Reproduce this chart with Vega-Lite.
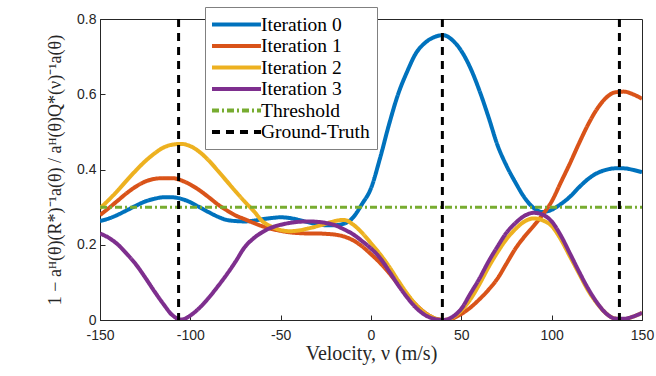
{
  "$schema": "https://vega.github.io/schema/vega-lite/v6.json",
  "width": 542,
  "height": 301,
  "autosize": {"type": "none"},
  "padding": {"left": 100, "top": 19, "right": 14, "bottom": 56},
  "background": "white",
  "config": {
    "font": "Liberation Serif",
    "view": {"stroke": "#262626", "strokeWidth": 1},
    "axis": {
      "grid": false,
      "domainColor": "#262626",
      "tickColor": "#262626",
      "tickSize": -5,
      "labelFlush": false,
      "labelFont": "Liberation Sans",
      "labelFontSize": 14,
      "labelColor": "#262626",
      "titleFont": "Liberation Serif",
      "titleFontSize": 20,
      "titleFontWeight": "normal",
      "titleColor": "#262626"
    }
  },
  "datasets": {
    "curves": [
      {"s":"Iteration 0","v":-150,"y":0.263},{"s":"Iteration 0","v":-145,"y":0.270},{"s":"Iteration 0","v":-140,"y":0.280},{"s":"Iteration 0","v":-135,"y":0.292},{"s":"Iteration 0","v":-130,"y":0.304},{"s":"Iteration 0","v":-125,"y":0.315},{"s":"Iteration 0","v":-120,"y":0.322},{"s":"Iteration 0","v":-115,"y":0.326},{"s":"Iteration 0","v":-110,"y":0.326},{"s":"Iteration 0","v":-105,"y":0.322},{"s":"Iteration 0","v":-100,"y":0.313},{"s":"Iteration 0","v":-95,"y":0.300},{"s":"Iteration 0","v":-90,"y":0.287},{"s":"Iteration 0","v":-85,"y":0.275},{"s":"Iteration 0","v":-80,"y":0.266},{"s":"Iteration 0","v":-75,"y":0.263},{"s":"Iteration 0","v":-70,"y":0.262},{"s":"Iteration 0","v":-65,"y":0.264},{"s":"Iteration 0","v":-60,"y":0.268},{"s":"Iteration 0","v":-55,"y":0.271},{"s":"Iteration 0","v":-50,"y":0.273},{"s":"Iteration 0","v":-45,"y":0.271},{"s":"Iteration 0","v":-40,"y":0.266},{"s":"Iteration 0","v":-35,"y":0.260},{"s":"Iteration 0","v":-30,"y":0.255},{"s":"Iteration 0","v":-25,"y":0.252},{"s":"Iteration 0","v":-20,"y":0.252},{"s":"Iteration 0","v":-15,"y":0.256},{"s":"Iteration 0","v":-10,"y":0.272},{"s":"Iteration 0","v":-5,"y":0.308},{"s":"Iteration 0","v":0,"y":0.350},{"s":"Iteration 0","v":5,"y":0.430},{"s":"Iteration 0","v":10,"y":0.520},{"s":"Iteration 0","v":15,"y":0.600},{"s":"Iteration 0","v":20,"y":0.660},{"s":"Iteration 0","v":25,"y":0.710},{"s":"Iteration 0","v":30,"y":0.737},{"s":"Iteration 0","v":35,"y":0.752},{"s":"Iteration 0","v":40,"y":0.757},{"s":"Iteration 0","v":45,"y":0.744},{"s":"Iteration 0","v":50,"y":0.715},{"s":"Iteration 0","v":55,"y":0.670},{"s":"Iteration 0","v":60,"y":0.610},{"s":"Iteration 0","v":65,"y":0.540},{"s":"Iteration 0","v":70,"y":0.465},{"s":"Iteration 0","v":75,"y":0.410},{"s":"Iteration 0","v":80,"y":0.365},{"s":"Iteration 0","v":85,"y":0.325},{"s":"Iteration 0","v":90,"y":0.298},{"s":"Iteration 0","v":95,"y":0.287},{"s":"Iteration 0","v":100,"y":0.293},{"s":"Iteration 0","v":105,"y":0.308},{"s":"Iteration 0","v":110,"y":0.327},{"s":"Iteration 0","v":115,"y":0.352},{"s":"Iteration 0","v":120,"y":0.374},{"s":"Iteration 0","v":125,"y":0.390},{"s":"Iteration 0","v":130,"y":0.399},{"s":"Iteration 0","v":135,"y":0.403},{"s":"Iteration 0","v":140,"y":0.403},{"s":"Iteration 0","v":145,"y":0.399},{"s":"Iteration 0","v":150,"y":0.393},

      {"s":"Iteration 1","v":-150,"y":0.279},{"s":"Iteration 1","v":-145,"y":0.298},{"s":"Iteration 1","v":-140,"y":0.318},{"s":"Iteration 1","v":-135,"y":0.338},{"s":"Iteration 1","v":-130,"y":0.355},{"s":"Iteration 1","v":-125,"y":0.368},{"s":"Iteration 1","v":-120,"y":0.375},{"s":"Iteration 1","v":-115,"y":0.377},{"s":"Iteration 1","v":-110,"y":0.377},{"s":"Iteration 1","v":-105,"y":0.371},{"s":"Iteration 1","v":-100,"y":0.360},{"s":"Iteration 1","v":-95,"y":0.345},{"s":"Iteration 1","v":-90,"y":0.327},{"s":"Iteration 1","v":-85,"y":0.308},{"s":"Iteration 1","v":-80,"y":0.292},{"s":"Iteration 1","v":-75,"y":0.278},{"s":"Iteration 1","v":-70,"y":0.268},{"s":"Iteration 1","v":-65,"y":0.258},{"s":"Iteration 1","v":-60,"y":0.249},{"s":"Iteration 1","v":-55,"y":0.242},{"s":"Iteration 1","v":-50,"y":0.237},{"s":"Iteration 1","v":-45,"y":0.233},{"s":"Iteration 1","v":-40,"y":0.231},{"s":"Iteration 1","v":-35,"y":0.230},{"s":"Iteration 1","v":-30,"y":0.230},{"s":"Iteration 1","v":-25,"y":0.229},{"s":"Iteration 1","v":-20,"y":0.227},{"s":"Iteration 1","v":-15,"y":0.222},{"s":"Iteration 1","v":-10,"y":0.212},{"s":"Iteration 1","v":-5,"y":0.196},{"s":"Iteration 1","v":0,"y":0.175},{"s":"Iteration 1","v":5,"y":0.152},{"s":"Iteration 1","v":10,"y":0.125},{"s":"Iteration 1","v":15,"y":0.095},{"s":"Iteration 1","v":20,"y":0.066},{"s":"Iteration 1","v":25,"y":0.040},{"s":"Iteration 1","v":30,"y":0.019},{"s":"Iteration 1","v":35,"y":0.005},{"s":"Iteration 1","v":40,"y":0.000},{"s":"Iteration 1","v":45,"y":0.004},{"s":"Iteration 1","v":50,"y":0.016},{"s":"Iteration 1","v":55,"y":0.033},{"s":"Iteration 1","v":60,"y":0.055},{"s":"Iteration 1","v":65,"y":0.080},{"s":"Iteration 1","v":70,"y":0.110},{"s":"Iteration 1","v":75,"y":0.150},{"s":"Iteration 1","v":80,"y":0.190},{"s":"Iteration 1","v":85,"y":0.222},{"s":"Iteration 1","v":90,"y":0.250},{"s":"Iteration 1","v":95,"y":0.280},{"s":"Iteration 1","v":100,"y":0.315},{"s":"Iteration 1","v":105,"y":0.365},{"s":"Iteration 1","v":110,"y":0.415},{"s":"Iteration 1","v":115,"y":0.468},{"s":"Iteration 1","v":120,"y":0.518},{"s":"Iteration 1","v":125,"y":0.560},{"s":"Iteration 1","v":130,"y":0.590},{"s":"Iteration 1","v":135,"y":0.605},{"s":"Iteration 1","v":140,"y":0.607},{"s":"Iteration 1","v":145,"y":0.600},{"s":"Iteration 1","v":150,"y":0.588},

      {"s":"Iteration 2","v":-150,"y":0.297},{"s":"Iteration 2","v":-145,"y":0.320},{"s":"Iteration 2","v":-140,"y":0.345},{"s":"Iteration 2","v":-135,"y":0.372},{"s":"Iteration 2","v":-130,"y":0.398},{"s":"Iteration 2","v":-125,"y":0.422},{"s":"Iteration 2","v":-120,"y":0.442},{"s":"Iteration 2","v":-115,"y":0.458},{"s":"Iteration 2","v":-110,"y":0.466},{"s":"Iteration 2","v":-105,"y":0.468},{"s":"Iteration 2","v":-100,"y":0.462},{"s":"Iteration 2","v":-95,"y":0.447},{"s":"Iteration 2","v":-90,"y":0.425},{"s":"Iteration 2","v":-85,"y":0.398},{"s":"Iteration 2","v":-80,"y":0.370},{"s":"Iteration 2","v":-75,"y":0.342},{"s":"Iteration 2","v":-70,"y":0.315},{"s":"Iteration 2","v":-65,"y":0.290},{"s":"Iteration 2","v":-60,"y":0.262},{"s":"Iteration 2","v":-55,"y":0.248},{"s":"Iteration 2","v":-50,"y":0.239},{"s":"Iteration 2","v":-45,"y":0.236},{"s":"Iteration 2","v":-40,"y":0.238},{"s":"Iteration 2","v":-35,"y":0.243},{"s":"Iteration 2","v":-30,"y":0.249},{"s":"Iteration 2","v":-25,"y":0.256},{"s":"Iteration 2","v":-20,"y":0.263},{"s":"Iteration 2","v":-15,"y":0.266},{"s":"Iteration 2","v":-10,"y":0.254},{"s":"Iteration 2","v":-5,"y":0.232},{"s":"Iteration 2","v":0,"y":0.204},{"s":"Iteration 2","v":5,"y":0.175},{"s":"Iteration 2","v":10,"y":0.142},{"s":"Iteration 2","v":15,"y":0.105},{"s":"Iteration 2","v":20,"y":0.070},{"s":"Iteration 2","v":25,"y":0.040},{"s":"Iteration 2","v":30,"y":0.018},{"s":"Iteration 2","v":35,"y":0.005},{"s":"Iteration 2","v":40,"y":0.000},{"s":"Iteration 2","v":45,"y":0.006},{"s":"Iteration 2","v":50,"y":0.025},{"s":"Iteration 2","v":55,"y":0.055},{"s":"Iteration 2","v":60,"y":0.095},{"s":"Iteration 2","v":65,"y":0.140},{"s":"Iteration 2","v":70,"y":0.180},{"s":"Iteration 2","v":75,"y":0.215},{"s":"Iteration 2","v":80,"y":0.242},{"s":"Iteration 2","v":85,"y":0.262},{"s":"Iteration 2","v":90,"y":0.270},{"s":"Iteration 2","v":95,"y":0.265},{"s":"Iteration 2","v":100,"y":0.250},{"s":"Iteration 2","v":105,"y":0.215},{"s":"Iteration 2","v":110,"y":0.170},{"s":"Iteration 2","v":115,"y":0.125},{"s":"Iteration 2","v":120,"y":0.080},{"s":"Iteration 2","v":125,"y":0.045},{"s":"Iteration 2","v":130,"y":0.018},{"s":"Iteration 2","v":135,"y":0.004},{"s":"Iteration 2","v":140,"y":0.002},{"s":"Iteration 2","v":145,"y":0.009},{"s":"Iteration 2","v":150,"y":0.019},

      {"s":"Iteration 3","v":-150,"y":0.230},{"s":"Iteration 3","v":-145,"y":0.218},{"s":"Iteration 3","v":-140,"y":0.200},{"s":"Iteration 3","v":-135,"y":0.175},{"s":"Iteration 3","v":-130,"y":0.147},{"s":"Iteration 3","v":-125,"y":0.113},{"s":"Iteration 3","v":-120,"y":0.077},{"s":"Iteration 3","v":-115,"y":0.043},{"s":"Iteration 3","v":-110,"y":0.013},{"s":"Iteration 3","v":-105,"y":0.001},{"s":"Iteration 3","v":-100,"y":0.012},{"s":"Iteration 3","v":-95,"y":0.032},{"s":"Iteration 3","v":-90,"y":0.058},{"s":"Iteration 3","v":-85,"y":0.088},{"s":"Iteration 3","v":-80,"y":0.120},{"s":"Iteration 3","v":-75,"y":0.155},{"s":"Iteration 3","v":-70,"y":0.193},{"s":"Iteration 3","v":-65,"y":0.217},{"s":"Iteration 3","v":-60,"y":0.234},{"s":"Iteration 3","v":-55,"y":0.246},{"s":"Iteration 3","v":-50,"y":0.253},{"s":"Iteration 3","v":-45,"y":0.258},{"s":"Iteration 3","v":-40,"y":0.261},{"s":"Iteration 3","v":-35,"y":0.262},{"s":"Iteration 3","v":-30,"y":0.261},{"s":"Iteration 3","v":-25,"y":0.258},{"s":"Iteration 3","v":-20,"y":0.252},{"s":"Iteration 3","v":-15,"y":0.241},{"s":"Iteration 3","v":-10,"y":0.228},{"s":"Iteration 3","v":-5,"y":0.210},{"s":"Iteration 3","v":0,"y":0.190},{"s":"Iteration 3","v":5,"y":0.165},{"s":"Iteration 3","v":10,"y":0.130},{"s":"Iteration 3","v":15,"y":0.093},{"s":"Iteration 3","v":20,"y":0.060},{"s":"Iteration 3","v":25,"y":0.032},{"s":"Iteration 3","v":30,"y":0.013},{"s":"Iteration 3","v":35,"y":0.003},{"s":"Iteration 3","v":40,"y":0.000},{"s":"Iteration 3","v":45,"y":0.008},{"s":"Iteration 3","v":50,"y":0.030},{"s":"Iteration 3","v":55,"y":0.070},{"s":"Iteration 3","v":60,"y":0.110},{"s":"Iteration 3","v":65,"y":0.155},{"s":"Iteration 3","v":70,"y":0.195},{"s":"Iteration 3","v":75,"y":0.232},{"s":"Iteration 3","v":80,"y":0.258},{"s":"Iteration 3","v":85,"y":0.277},{"s":"Iteration 3","v":90,"y":0.285},{"s":"Iteration 3","v":95,"y":0.280},{"s":"Iteration 3","v":100,"y":0.262},{"s":"Iteration 3","v":105,"y":0.225},{"s":"Iteration 3","v":110,"y":0.178},{"s":"Iteration 3","v":115,"y":0.130},{"s":"Iteration 3","v":120,"y":0.085},{"s":"Iteration 3","v":125,"y":0.047},{"s":"Iteration 3","v":130,"y":0.018},{"s":"Iteration 3","v":135,"y":0.004},{"s":"Iteration 3","v":140,"y":0.003},{"s":"Iteration 3","v":145,"y":0.009},{"s":"Iteration 3","v":150,"y":0.019}
    ],
    "threshold": [
      {"s":"Threshold","v":-150,"y":0.3},{"s":"Threshold","v":150,"y":0.3}
    ],
    "truth": [
      {"s":"Ground-Truth","v":-106.5},{"s":"Ground-Truth","v":39.5},{"s":"Ground-Truth","v":137.5}
    ]
  },
  "encoding": {
    "x": {
      "field": "v", "type": "quantitative",
      "title": "Velocity, \u03bd (m/s)",
      "scale": {"domain": [-150, 150], "nice": false, "zero": false},
      "axis": {
        "values": [-150, -100, -50, 0, 50, 100, 150],
        "labelExpr": "replace(datum.label, '\u2212', '-')",
        "titleFont": "Liberation Serif",
        "titleFontSize": 20,
        "labelPadding": 13,
        "titlePadding": 1
      }
    },
    "color": {
      "field": "s", "type": "nominal",
      "scale": {
        "domain": ["Iteration 0", "Iteration 1", "Iteration 2", "Iteration 3", "Threshold", "Ground-Truth"],
        "range": ["#0072BD", "#D95319", "#EDB120", "#7E2F8E", "#77AC30", "#000000"]
      },
      "legend": {
        "title": null,
        "orient": "none",
        "legendX": 105,
        "legendY": -12,
        "fillColor": "white",
        "strokeColor": "#808080",
        "padding": 7,
        "symbolType": "M -3,0 L 3,0",
        "symbolSize": 267,
        "symbolStrokeWidth": 4,
        "symbolOffset": 14,
        "labelFont": "Liberation Serif",
        "labelFontSize": 19.5,
        "labelColor": "#000000",
        "labelOffset": 14,
        "rowPadding": 1.5
      }
    },
    "strokeDash": {
      "field": "s", "type": "nominal",
      "scale": {
        "domain": ["Iteration 0", "Iteration 1", "Iteration 2", "Iteration 3", "Threshold", "Ground-Truth"],
        "range": [[1, 0], [1, 0], [1, 0], [1, 0], [7, 3, 2, 3], [8, 6]]
      },
      "legend": {
        "title": null,
        "orient": "none",
        "legendX": 105,
        "legendY": -12
      }
    }
  },
  "layer": [
    {
      "data": {"name": "curves"},
      "mark": {"type": "line", "strokeWidth": 4, "interpolate": "monotone", "clip": true},
      "encoding": {
        "y": {
          "field": "y", "type": "quantitative",
          "title": "1 \u2212 a\u1d34(\u03b8)(R*)\u207b\u00b9a(\u03b8) / a\u1d34(\u03b8)Q*(\u03bd)\u207b\u00b9a(\u03b8)",
          "scale": {"domain": [0, 0.8], "nice": false},
          "axis": {
            "values": [0, 0.2, 0.4, 0.6, 0.8],
            "format": ".1~f",
            "titleFont": "Liberation Serif",
            "titleFontSize": 18,
            "labelPadding": 9,
            "titlePadding": 12
          }
        }
      }
    },
    {
      "data": {"name": "threshold"},
      "mark": {"type": "line", "strokeWidth": 3},
      "encoding": {"y": {"field": "y", "type": "quantitative"}}
    },
    {
      "data": {"name": "truth"},
      "mark": {"type": "rule", "strokeWidth": 3},
      "encoding": {}
    }
  ]
}
